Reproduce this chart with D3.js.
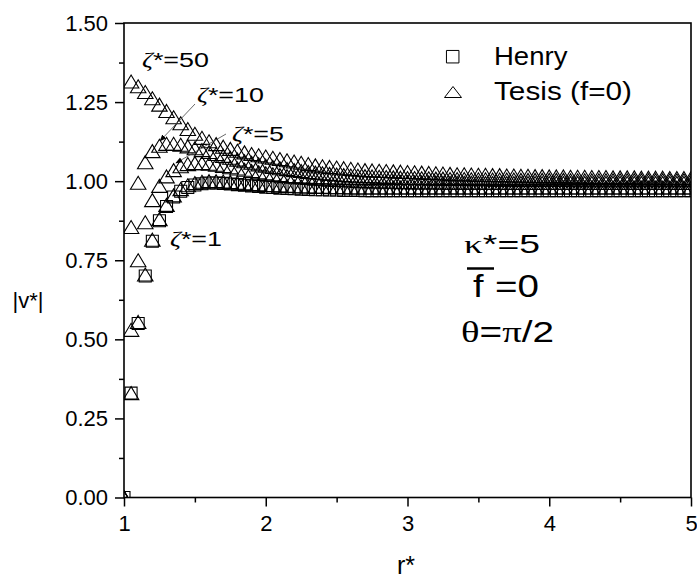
<!DOCTYPE html>
<html>
<head>
<meta charset="utf-8">
<script src="https://cdn.jsdelivr.net/npm/d3@7"></script>
<style>
  body { margin: 0; background: #fff; }
  svg { display: block; font-family: "Liberation Sans", Arial, sans-serif; }
</style>
</head>
<body>
<div id="chart"></div>
<script>
// r* grid (shared by every series)
const rValues = [
  1.00, 1.05, 1.10, 1.15, 1.20, 1.25, 1.30, 1.35, 1.40, 1.45,
  1.50, 1.55, 1.60, 1.65, 1.70, 1.75, 1.80, 1.85, 1.90, 1.95,
  2.00, 2.05, 2.10, 2.15, 2.20, 2.25, 2.30, 2.35, 2.40, 2.45,
  2.50, 2.55, 2.60, 2.65, 2.70, 2.75, 2.80, 2.85, 2.90, 2.95,
  3.00, 3.05, 3.10, 3.15, 3.20, 3.25, 3.30, 3.35, 3.40, 3.45,
  3.50, 3.55, 3.60, 3.65, 3.70, 3.75, 3.80, 3.85, 3.90, 3.95,
  4.00, 4.05, 4.10, 4.15, 4.20, 4.25, 4.30, 4.35, 4.40, 4.45,
  4.50, 4.55, 4.60, 4.65, 4.70, 4.75, 4.80, 4.85, 4.90, 4.95,
  5.00
];

// Henry (same normalised profile for every zeta)
const henry = [
  0.000, 0.330, 0.550, 0.700, 0.810, 0.875, 0.920, 0.950, 0.968, 0.980,
  0.988, 0.992, 0.994, 0.994, 0.993, 0.991, 0.989, 0.987, 0.985, 0.983,
  0.981, 0.980, 0.978, 0.977, 0.976, 0.975, 0.974, 0.973, 0.973, 0.972,
  0.972, 0.971, 0.971, 0.971, 0.970, 0.970, 0.970, 0.970, 0.970, 0.970,
  0.970, 0.970, 0.970, 0.970, 0.970, 0.970, 0.970, 0.970, 0.970, 0.970,
  0.970, 0.970, 0.970, 0.970, 0.970, 0.970, 0.970, 0.970, 0.970, 0.970,
  0.970, 0.970, 0.970, 0.970, 0.970, 0.970, 0.970, 0.970, 0.970, 0.970,
  0.970, 0.970, 0.970, 0.970, 0.970, 0.970, 0.970, 0.970, 0.970, 0.970,
  0.970
];

// Tesis (f=0), zeta* = 1
const tesisZ1 = [
  0.000, 0.330, 0.555, 0.705, 0.815, 0.880, 0.925, 0.955, 0.975, 0.987,
  0.994, 0.998, 1.000, 1.000, 0.999, 0.997, 0.995, 0.993, 0.991, 0.990,
  0.988, 0.987, 0.986, 0.985, 0.984, 0.983, 0.983, 0.982, 0.982, 0.981,
  0.981, 0.981, 0.980, 0.980, 0.980, 0.980, 0.980, 0.980, 0.980, 0.980,
  0.980, 0.980, 0.980, 0.980, 0.980, 0.980, 0.980, 0.980, 0.980, 0.980,
  0.980, 0.980, 0.980, 0.980, 0.980, 0.980, 0.980, 0.980, 0.980, 0.980,
  0.980, 0.980, 0.980, 0.980, 0.980, 0.980, 0.980, 0.980, 0.980, 0.980,
  0.980, 0.980, 0.980, 0.980, 0.980, 0.980, 0.980, 0.980, 0.980, 0.980,
  0.980
];

// Tesis (f=0), zeta* = 5
const tesisZ5 = [
  0.000, 0.530, 0.750, 0.870, 0.940, 0.985, 1.015, 1.035, 1.047, 1.054,
  1.057, 1.057, 1.055, 1.052, 1.048, 1.044, 1.040, 1.036, 1.032, 1.028,
  1.025, 1.022, 1.019, 1.016, 1.014, 1.012, 1.010, 1.008, 1.006, 1.005,
  1.004, 1.003, 1.002, 1.001, 1.000, 0.999, 0.999, 0.998, 0.998, 0.997,
  0.997, 0.996, 0.996, 0.996, 0.996, 0.995, 0.995, 0.995, 0.995, 0.995,
  0.995, 0.994, 0.994, 0.994, 0.994, 0.994, 0.994, 0.994, 0.994, 0.994,
  0.994, 0.994, 0.994, 0.994, 0.994, 0.994, 0.994, 0.994, 0.994, 0.994,
  0.994, 0.994, 0.994, 0.994, 0.994, 0.994, 0.994, 0.994, 0.994, 0.994,
  0.994
];

// Tesis (f=0), zeta* = 10
const tesisZ10 = [
  0.000, 0.855, 0.995, 1.060, 1.095, 1.112, 1.118, 1.118, 1.115, 1.110,
  1.104, 1.098, 1.092, 1.086, 1.080, 1.074, 1.068, 1.063, 1.058, 1.053,
  1.049, 1.045, 1.041, 1.038, 1.035, 1.032, 1.029, 1.027, 1.025, 1.023,
  1.021, 1.019, 1.018, 1.017, 1.016, 1.015, 1.014, 1.013, 1.012, 1.011,
  1.010, 1.010, 1.009, 1.009, 1.008, 1.008, 1.007, 1.007, 1.007, 1.006,
  1.006, 1.006, 1.005, 1.005, 1.005, 1.005, 1.004, 1.004, 1.004, 1.004,
  1.004, 1.004, 1.004, 1.003, 1.003, 1.003, 1.003, 1.003, 1.003, 1.003,
  1.003, 1.003, 1.003, 1.003, 1.003, 1.003, 1.003, 1.003, 1.003, 1.003,
  1.003
];

// Tesis (f=0), zeta* = 50
const tesisZ50 = [
  0.000, 1.315, 1.300, 1.282, 1.262, 1.242, 1.222, 1.202, 1.183, 1.165,
  1.150, 1.137, 1.126, 1.117, 1.109, 1.102, 1.096, 1.091, 1.086, 1.082,
  1.078, 1.074, 1.070, 1.066, 1.062, 1.058, 1.054, 1.050, 1.047, 1.045,
  1.043, 1.041, 1.039, 1.037, 1.035, 1.034, 1.033, 1.032, 1.031, 1.030,
  1.029, 1.028, 1.027, 1.026, 1.025, 1.024, 1.023, 1.022, 1.022, 1.021,
  1.020, 1.020, 1.019, 1.019, 1.018, 1.018, 1.017, 1.017, 1.016, 1.016,
  1.015, 1.015, 1.015, 1.014, 1.014, 1.014, 1.013, 1.013, 1.013, 1.012,
  1.012, 1.012, 1.012, 1.011, 1.011, 1.011, 1.011, 1.010, 1.010, 1.010,
  1.010
];

const xTicks = [1, 2, 3, 4, 5];
const xMinorTicks = [1.5, 2.5, 3.5, 4.5];
const yTicks = [0, 0.25, 0.5, 0.75, 1.0, 1.25, 1.5];
const yMinorTicks = [0.125, 0.375, 0.625, 0.875, 1.125, 1.375];

const width = 697, height = 581;
const plot = { left: 124, right: 691, top: 23, bottom: 497.5 };

const svg = d3.select("#chart").append("svg")
  .attr("width", width).attr("height", height)
  .attr("viewBox", `0 0 ${width} ${height}`);

const x = d3.scaleLinear().domain([1, 5]).range([plot.left, plot.right]);
const y = d3.scaleLinear().domain([0, 1.5]).range([plot.bottom, plot.top]);

// clip markers to the frame
svg.append("clipPath").attr("id", "plotClip")
  .append("rect")
  .attr("x", plot.left).attr("y", plot.top)
  .attr("width", plot.right - plot.left).attr("height", plot.bottom - plot.top);

// marker shapes (centred on the data point)
const squarePath = s => `M${-s / 2},${-s / 2}h${s}v${s}h${-s}Z`;
const trianglePath = (w, h) => `M0,${-h / 2}L${w / 2},${h / 2}L${-w / 2},${h / 2}Z`;

const marks = svg.append("g").attr("clip-path", "url(#plotClip)");

function drawSeries(values, shape) {
  marks.append("g")
    .selectAll("path")
    .data(rValues.map((r, i) => [r, values[i]]))
    .join("path")
    .attr("transform", d => `translate(${x(d[0])},${y(d[1])})`)
    .attr("d", shape)
    .attr("fill", "none")
    .attr("stroke", "#000")
    .attr("stroke-width", 1.1);
}

const sq = squarePath(12);
const tri = trianglePath(15.5, 13);
drawSeries(henry, sq);
drawSeries(tesisZ1, tri);
drawSeries(tesisZ5, tri);
drawSeries(tesisZ10, tri);
drawSeries(tesisZ50, tri);

// axes
const fontTick = "22px";
const xAxis = svg.append("g").attr("transform", `translate(0,${plot.bottom})`)
  .call(d3.axisBottom(x).tickValues(xTicks).tickSize(9).tickSizeOuter(0).tickPadding(9).tickFormat(d3.format("d")));
const xMinor = svg.append("g").attr("transform", `translate(0,${plot.bottom})`)
  .call(d3.axisBottom(x).tickValues(xMinorTicks).tickSize(5).tickSizeOuter(0).tickFormat(""));
const yAxis = svg.append("g").attr("transform", `translate(${plot.left},0)`)
  .call(d3.axisLeft(y).tickValues(yTicks).tickSize(9).tickSizeOuter(0).tickPadding(7).tickFormat(d3.format(".2f")));
const yMinor = svg.append("g").attr("transform", `translate(${plot.left},0)`)
  .call(d3.axisLeft(y).tickValues(yMinorTicks).tickSize(5).tickSizeOuter(0).tickFormat(""));

[xAxis, xMinor, yAxis, yMinor].forEach(g => {
  g.select(".domain").remove();
  g.selectAll(".tick line").attr("stroke", "#000").attr("stroke-width", 1.5);
  g.selectAll("text").attr("fill", "#000").style("font-size", fontTick)
    .style("font-family", "'Liberation Sans', Arial, sans-serif");
});

// frame
svg.append("rect")
  .attr("x", plot.left).attr("y", plot.top)
  .attr("width", plot.right - plot.left).attr("height", plot.bottom - plot.top)
  .attr("fill", "none").attr("stroke", "#000").attr("stroke-width", 1.6);

// stretch a text horizontally so it spans the width seen in the figure
function fitText(sel, x0, y0, target) {
  const w = sel.node().getBBox().width;
  sel.attr("x", 0).attr("y", 0)
    .attr("transform", `translate(${x0},${y0}) scale(${target / w},1)`);
  return sel;
}

// axis titles
svg.append("text").attr("x", 406).attr("y", 574).attr("text-anchor", "middle")
  .style("font-size", "25px").text("r*");
svg.append("text").attr("x", 28).attr("y", 308).attr("text-anchor", "middle")
  .style("font-size", "22px").text("|v*|");

// legend
const legend = svg.append("g");
legend.append("path").attr("transform", "translate(452.7,56.7)").attr("d", squarePath(12.5))
  .attr("fill", "none").attr("stroke", "#000").attr("stroke-width", 1);
legend.append("path").attr("transform", "translate(453,92)").attr("d", trianglePath(17, 11))
  .attr("fill", "none").attr("stroke", "#000").attr("stroke-width", 1);
fitText(legend.append("text").style("font-size", "25px").text("Henry"), 494, 65, 74);
fitText(legend.append("text").style("font-size", "25px").text("Tesis (f=0)"), 494, 100, 138);

// zeta labels
const greek = "'Liberation Serif', 'DejaVu Serif', serif";
function zetaLabel(x0, y0, value, target) {
  const t = svg.append("text").style("font-size", "21px");
  t.append("tspan").style("font-family", greek).style("font-style", "italic").text("ζ");
  t.append("tspan").text("*=" + value);
  fitText(t, x0, y0, target);
}
zetaLabel(142, 67, "50", 67);
zetaLabel(197, 102, "10", 67);
zetaLabel(232, 141, "5", 52);
zetaLabel(170, 246, "1", 52);

// leader lines with small arrow heads
svg.append("defs").append("marker")
  .attr("id", "arrowHead").attr("viewBox", "0 0 10 10")
  .attr("refX", 9).attr("refY", 5)
  .attr("markerWidth", 7).attr("markerHeight", 7)
  .attr("markerUnits", "userSpaceOnUse")
  .attr("orient", "auto")
  .append("path").attr("d", "M0,1L10,5L0,9Z").attr("fill", "#000");
const leaders = [
  [195, 104, 160, 141],
  [226, 134, 176, 163]
];
svg.append("g").selectAll("line").data(leaders).join("line")
  .attr("x1", d => d[0]).attr("y1", d => d[1])
  .attr("x2", d => d[2]).attr("y2", d => d[3])
  .attr("stroke", "#444").attr("stroke-width", 0.8)
  .attr("marker-end", "url(#arrowHead)");

// parameter annotations
const note = svg.append("g");
const kappa = note.append("text").style("font-size", "26px");
kappa.append("tspan").style("font-family", greek).text("κ");
kappa.append("tspan").text("*=5");
fitText(kappa, 464, 253, 76);

note.append("line").attr("x1", 467).attr("x2", 494).attr("y1", 268.5).attr("y2", 268.5)
  .attr("stroke", "#000").attr("stroke-width", 2.5);
fitText(note.append("text").style("font-size", "31px").text("f"), 473, 297, 11);
fitText(note.append("text").style("font-size", "31px").text("=0"), 495, 297, 44);

const theta = note.append("text").style("font-size", "30px");
theta.append("tspan").style("font-family", greek).text("θ");
theta.append("tspan").text("=");
theta.append("tspan").style("font-family", greek).text("π");
theta.append("tspan").text("/2");
fitText(theta, 461, 342, 93);
</script>
</body>
</html>
